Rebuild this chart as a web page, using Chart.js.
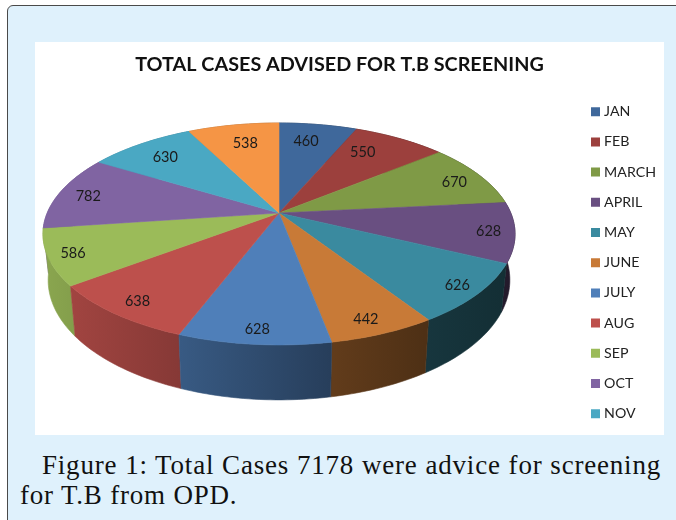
<!DOCTYPE html>
<html><head><meta charset="utf-8">
<style>
html,body{margin:0;padding:0;background:#fff;width:676px;height:520px;overflow:hidden}
#card{position:absolute;left:7px;top:5px;width:720px;height:560px;background:#dff1fc;border:1.5px solid #4a4a4a;border-radius:6px;box-sizing:border-box}
#panel{position:absolute;left:35px;top:42px;width:629px;height:393px;background:#fff}
#cap{position:absolute;left:20px;top:450px;width:641px;font:27px/30px "Liberation Serif",serif;color:#111;text-align:justify;letter-spacing:.8px}
#cap span{display:block}
#cap .a{text-indent:22px;text-align-last:justify}
</style></head><body>
<div id="card"></div>
<div id="panel"><canvas id="c" width="629" height="393" style="display:block"></canvas></div>
<div id="cap"><span class="a">Figure 1: Total Cases 7178 were advice for screening</span><span>for T.B from OPD.</span></div>
<script src="https://cdn.jsdelivr.net/npm/chart.js@4"></script>
<script>
const months = ['JAN','FEB','MARCH','APRIL','MAY','JUNE','JULY','AUG','SEP','OCT','NOV','DEC'];
const cases = [460,550,670,628,626,442,628,638,586,782,630,538];
const colours = ['#3f689b','#9c403d','#7f9a46','#694f81','#3a8a9f','#c87a37','#4f7fb9','#bd504c','#9bbb59','#8064a2','#4aa8c3','#f59545'];
const chartTitle = 'TOTAL CASES ADVISED FOR T.B SCREENING';

// perspective view of the pie's disc, in canvas pixels
const view = {cx:244, cy:171, rx:231.8, ry:107, tilt:0.189, floorX:0.978, floorLift:44.4, floorY:1.08};
// hand placement of the data labels relative to their slice's label point
const labelNudgeX = [-7,-21,4,10,13,1,-1,-6,-12,-4,6,6];
const labelNudgeY = [5,4,2,2,5,7,8,5,3,1,4,7];
function rim(a, r){
  const u = r*Math.cos(a), v = r*Math.sin(a), d = 1 - view.tilt*v;
  return {x: view.cx + view.rx*u/d, y: view.cy + view.ry*v/d};
}
function floor(p){
  return {x: view.cx + (p.x-view.cx)*view.floorX, y: view.cy + view.floorLift + (p.y-view.cy)*view.floorY};
}
function shadeHex(hex, f){
  const n = parseInt(hex.slice(1),16);
  const c = s => Math.round(((n>>s)&255)*f);
  return `rgb(${c(16)},${c(8)},${c(0)})`;
}
function steps(a0, a1){
  const n = Math.max(2, Math.ceil((a1-a0)/0.02)), out=[];
  for(let i=0;i<=n;i++) out.push(a0+(a1-a0)*i/n);
  return out;
}
// top face of each slice
Chart.ArcElement.prototype.draw = function(ctx){
  const {startAngle, endAngle} = this.getProps(['startAngle','endAngle']);
  ctx.save();
  ctx.beginPath();
  ctx.moveTo(view.cx, view.cy);
  steps(startAngle,endAngle).forEach(a=>{const p=rim(a,1);ctx.lineTo(p.x,p.y);});
  ctx.closePath();
  ctx.fillStyle = this.options.backgroundColor;
  ctx.strokeStyle = this.options.backgroundColor;
  ctx.lineWidth = 0.6;
  ctx.fill(); ctx.stroke();
  ctx.restore();
};
const wallShade = [[0,0.90],[0.23,0.71],[0.47,0.49],[0.62,0.39],[0.755,0.33],[1,0.33]];
const pie3d = {
  id:'pie3d',
  afterLayout(chart){
    const pad = chart.legend.options.labels.padding;
    chart.legend.left = 559-pad; chart.legend.top = 46.6; chart.legend.bottom = 520;
    chart.titleBlock.top += 11; chart.titleBlock.bottom += 11;
    chart.titleBlock.left -= 10; chart.titleBlock.right -= 10;
  },
  beforeDatasetsDraw(chart){
    const ctx = chart.ctx, arcs = chart.getDatasetMeta(0).data.slice();
    const low = e => { const g=e.getProps(['startAngle','endAngle']); return rim((g.startAngle+g.endAngle)/2,1).y; };
    arcs.sort((a,b)=>low(a)-low(b));
    arcs.forEach(e=>{
      const {startAngle,endAngle} = e.getProps(['startAngle','endAngle']);
      const top = steps(startAngle,endAngle).map(a=>rim(a,1));
      const bot = top.map(floor).reverse();
      const grad = ctx.createLinearGradient(0,0,629,0);
      const base = e.options.backgroundColor;
      wallShade.forEach(([s,f])=>grad.addColorStop(s, shadeHex(base,f)));
      ctx.beginPath();
      top.concat(bot).forEach((p,i)=> i? ctx.lineTo(p.x,p.y):ctx.moveTo(p.x,p.y));
      ctx.closePath();
      ctx.fillStyle=grad; ctx.strokeStyle=grad; ctx.lineWidth=.6;
      ctx.fill(); ctx.stroke();
    });
  },
  afterDatasetsDraw(chart){
    const ctx = chart.ctx, meta = chart.getDatasetMeta(0);
    ctx.save();
    ctx.font = '14.5px Lato'; ctx.fillStyle='#1a1a1a';
    ctx.textAlign='center'; ctx.textBaseline='middle';
    meta.data.forEach((e,i)=>{
      const {startAngle,endAngle} = e.getProps(['startAngle','endAngle']);
      const p = rim((startAngle+endAngle)/2, 0.85);
      ctx.fillText(String(cases[i]), p.x+labelNudgeX[i], p.y+labelNudgeY[i]);
    });
    ctx.restore();
  }
};
new Chart(document.getElementById('c'),{
  type:'pie',
  data:{labels:months,datasets:[{data:cases,backgroundColor:colours,borderWidth:0}]},
  plugins:[pie3d],
  options:{
    responsive:false,animation:false,
    layout:{padding:0},
    plugins:{
      tooltip:{enabled:false},
      title:{display:true,text:chartTitle,color:'#111',font:{family:'Lato',size:19.8,weight:'bold'},padding:{top:0,bottom:0}},
      legend:{display:true,position:'right',align:'start',
        labels:{boxWidth:3,boxHeight:3,padding:16,color:'#222',font:{family:'Lato',size:14.2},
          generateLabels:(chart)=>Chart.PieController.overrides.plugins.legend.labels.generateLabels(chart)
            .map(i=>({...i,strokeStyle:i.fillStyle,lineWidth:6})),
          filter:(item)=>item.index<11}}
    }
  }
});
</script>
</body></html>
